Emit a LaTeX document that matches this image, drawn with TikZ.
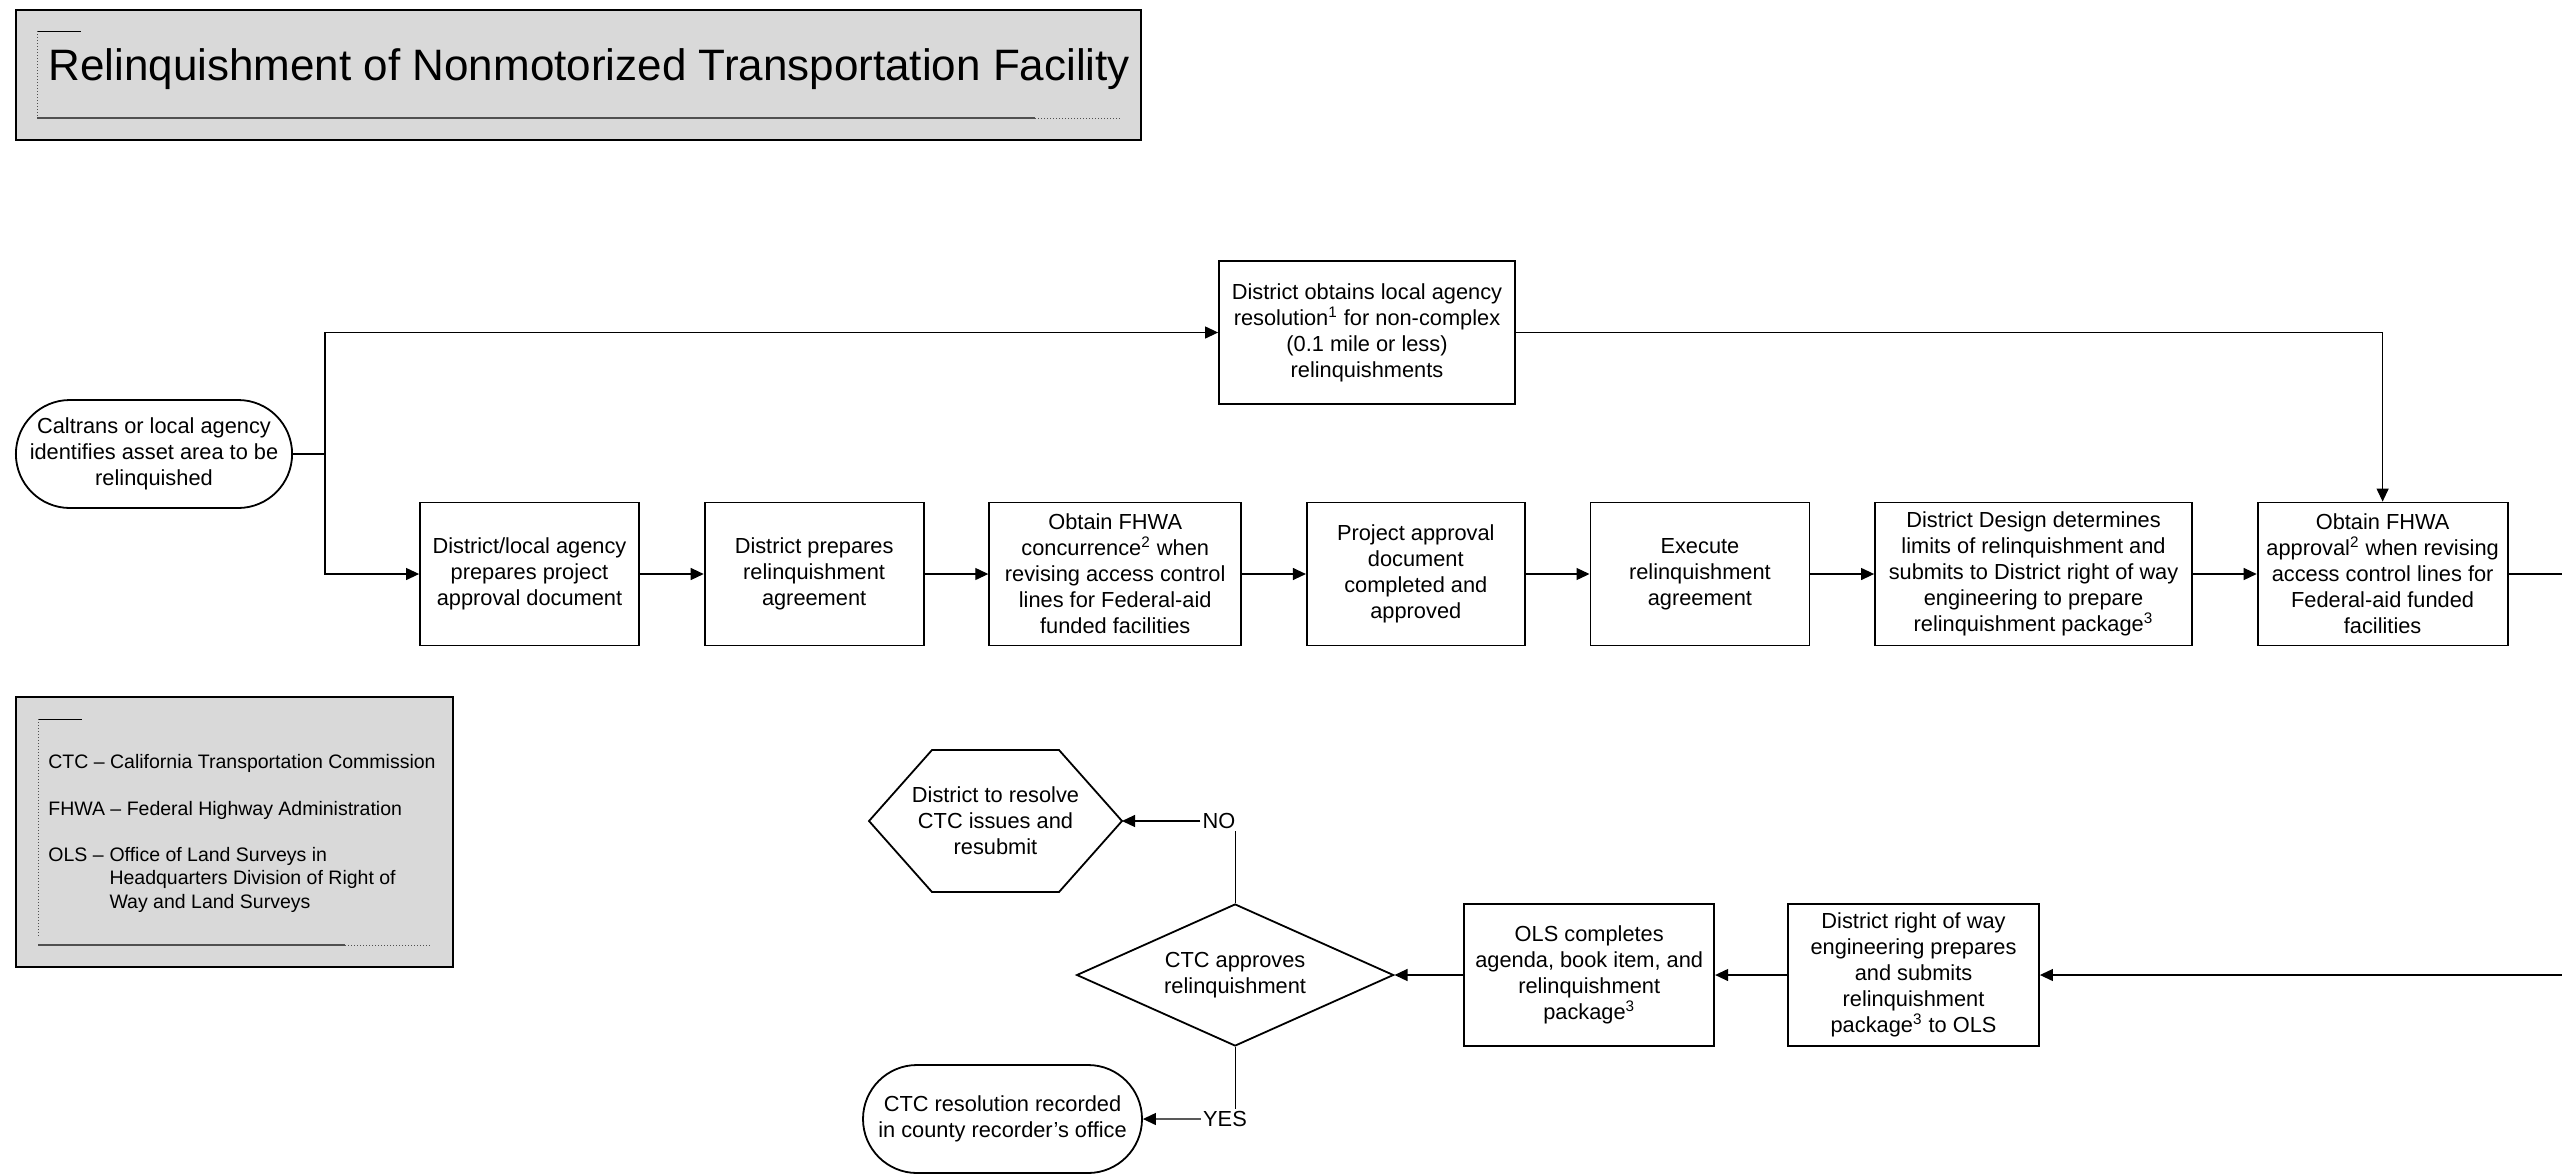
\documentclass[tikz,border=0pt]{standalone}
\usepackage{fontspec}
\setmainfont{Liberation Sans}
\usetikzlibrary{positioning,shapes.geometric,shapes.misc,arrows.meta}

\definecolor{panelgray}{HTML}{D9D9D9}
\definecolor{rulegray}{HTML}{505050}

\begin{document}
\begin{tikzpicture}[
        x=0.5pt, y=-0.5pt,
        boxfont/.style={font=\fontsize{10.9}{13}\selectfont},
        process/.style={rectangle,draw=black,line width=0.9pt,align=center,minimum height=71.5pt,inner sep=1pt,boxfont},
        terminal/.style={rounded rectangle,draw=black,line width=0.9pt,align=center,minimum height=54pt,inner xsep=0pt,inner ysep=1pt,boxfont},
        decision/.style={diamond,draw=black,line width=0.9pt,align=center,aspect=2.23,minimum width=158.5pt,minimum height=71pt,inner sep=0pt,boxfont},
        prep/.style={rectangle,align=center,minimum width=126.5pt,minimum height=71pt,inner sep=0pt,outer sep=0pt,boxfont},
        answer/.style={inner sep=1pt,boxfont},
        flow/.style={line width=0.6pt,-{Triangle[length=6.5pt,width=6pt]}},
        link/.style={line width=0.6pt},
        panel/.style={draw=black,line width=1.2pt,fill=panelgray}
    ]
    \useasboundingbox (0,0) rectangle (2562,1173);

    \filldraw[panel] (16,10) rectangle (1141,140);
    \draw[line width=0.5pt] (37,31) -- (81,31);
    \draw[rulegray,densely dotted,line width=0.5pt] (37,31) -- (37,118);
    \draw[rulegray,line width=0.8pt] (37,118) -- (1035,118);
    \draw[rulegray,densely dotted,line width=0.5pt] (1035,118) -- (1120,118);
    \node[anchor=west,inner sep=0pt,font=\fontsize{22}{26}\selectfont] (title) at (48,69) {Relinquishment of Nonmotorized Transportation Facility};

    \filldraw[panel] (16,697) rectangle (453,967);
    \draw[line width=0.5pt] (38,719) -- (82,719);
    \draw[rulegray,densely dotted,line width=0.5pt] (38,719) -- (38,938);
    \draw[rulegray,line width=0.8pt] (38,945) -- (345,945);
    \draw[rulegray,densely dotted,line width=0.5pt] (345,945) -- (430,945);
    \node[anchor=west,inner sep=0pt,font=\fontsize{9.75}{11.75}\selectfont] (ctcnote) at (48,763) {CTC -- California Transportation Commission};
    \node[anchor=west,inner sep=0pt,font=\fontsize{9.75}{11.75}\selectfont] (fhwanote) at (48,810) {FHWA -- Federal Highway Administration};
    \node[anchor=west,inner sep=0pt,font=\fontsize{9.75}{11.75}\selectfont] (olsnote) at (48,880)
        {\begin{tabular}{@{}l@{\hspace{0.3em}}l@{}}OLS -- & Office of Land Surveys in\\ & Headquarters Division of Right of\\ & Way and Land Surveys\end{tabular}};

    \node[terminal,minimum width=138pt] (start) at (154,454) {Caltrans or local agency\\identifies asset area to be\\relinquished};
    \node[process,minimum width=148pt] (resolution) at (1367,332.5) {District obtains local agency\\resolution\textsuperscript{1} for non-complex\\(0.1 mile or less)\\relinquishments};

    \node[process,minimum width=109.5pt] (prepare) at (529.5,574) {District/local agency\\prepares project\\approval document};
    \node[process,minimum width=109.5pt] (agreement) [right=31.9pt of prepare] {District prepares\\relinquishment\\agreement};
    \node[process,minimum width=126pt] (concur) [right=31.9pt of agreement] {Obtain FHWA\\concurrence\textsuperscript{2} when\\revising access control\\lines for Federal-aid\\funded facilities};
    \node[process,minimum width=109pt] (completed) [right=31.9pt of concur] {Project approval\\document\\completed and\\approved};
    \node[process,minimum width=109.5pt] (execute) [right=31.9pt of completed] {Execute\\relinquishment\\agreement};
    \node[process,minimum width=158.5pt] (limits) [right=31.9pt of execute] {District Design determines\\limits of relinquishment and\\submits to District right of way\\engineering to prepare\\relinquishment package\textsuperscript{3}};
    \node[process,minimum width=125pt] (approval) [right=31.9pt of limits] {Obtain FHWA\\approval\textsuperscript{2} when revising\\access control lines for\\Federal-aid funded\\facilities};

    \node[process,minimum width=125.5pt,minimum height=71pt] (rowpkg) at (1913.5,975) {District right of way\\engineering prepares\\and submits\\relinquishment\\package\textsuperscript{3} to OLS};
    \node[process,minimum width=125pt,minimum height=71pt] (olspkg) [left=36pt of rowpkg] {OLS completes\\agenda, book item, and\\relinquishment\\package\textsuperscript{3}};
    \node[decision] (ctc) [left=34.4pt of olspkg] {CTC approves\\relinquishment};

    \node[prep] (resolve) at (995.5,821) {District to resolve\\CTC issues and\\resubmit};
    \draw[line width=0.9pt] (resolve.west) -- ([xshift=31.5pt]resolve.north west) -- ([xshift=-31.5pt]resolve.north east)
        -- (resolve.east) -- ([xshift=-31.5pt]resolve.south east) -- ([xshift=31.5pt]resolve.south west) -- cycle;
    \node[terminal,minimum width=139.5pt] (record) at (1002.5,1119) {CTC resolution recorded\\in county recorder's office};
    \node[answer] (no) at (1219,821) {NO};
    \node[answer] (yes) at (1225,1119) {YES};

    \coordinate (split) at (325,454);
    \coordinate (rowend) at (2562,574);
    \coordinate (backin) at (2562,975);

    \draw[link] (start.east) -- (split);
    \draw[flow] (split) |- (resolution.west);
    \draw[flow] (split) |- (prepare.west);
    \draw[flow] (resolution.east) -| (approval.north);

    \path[flow] (prepare) edge (agreement)
        (agreement) edge (concur)
        (concur) edge (completed)
        (completed) edge (execute)
        (execute) edge (limits)
        (limits) edge (approval);
    \draw[link] (approval.east) -- (rowend);

    \draw[flow] (backin) -- (rowpkg.east);
    \path[flow] (rowpkg) edge (olspkg)
        (olspkg) edge (ctc);

    \draw[link] (ctc.north) -- (ctc.north |- no.south);
    \draw[flow] (no) -- (resolve.east);
    \draw[link] (ctc.south) -- (ctc.south |- yes.north);
    \draw[flow] (yes) -- (record);
\end{tikzpicture}
\end{document}
